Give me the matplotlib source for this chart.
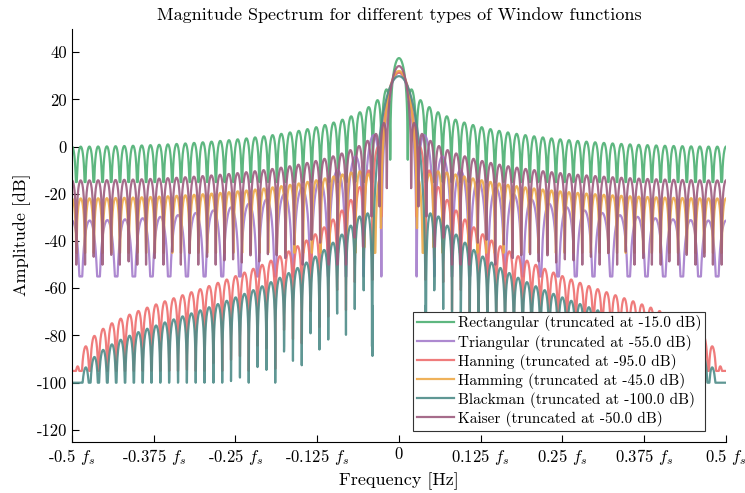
import numpy as np
import matplotlib
matplotlib.use("Agg")
import matplotlib.pyplot as plt

plt.rcParams['font.family'] = 'serif'
plt.rcParams['font.serif'] = ['cmr10', 'DejaVu Serif']
plt.rcParams['mathtext.fontset'] = 'cm'
plt.rcParams['axes.unicode_minus'] = False
plt.rcParams['axes.formatter.use_mathtext'] = False

# window setup
N = 75
nfft = 4096
kaiser_beta = 3.0

names = ["Rectangular", "Triangular", "Hanning", "Hamming", "Blackman", "Kaiser"]
floors_db = [-15.0, -55.0, -95.0, -45.0, -100.0, -50.0]
colors = ["#4caf72", "#a47ccb", "#ee6e6e", "#eeaa48", "#4e8c88", "#9c5c7e"]

windows = [
    np.ones(N),
    np.bartlett(N),
    np.hanning(N),
    np.hamming(N),
    np.blackman(N),
    np.kaiser(N, kaiser_beta),
]

x_ticks = [-0.5, -0.375, -0.25, -0.125, 0, 0.125, 0.25, 0.375, 0.5]
x_labels = ["-0.5 $f_s$", "-0.375 $f_s$", "-0.25 $f_s$", "-0.125 $f_s$", "0",
            "0.125 $f_s$", "0.25 $f_s$", "0.375 $f_s$", "0.5 $f_s$"]
y_ticks = [-120, -100, -80, -60, -40, -20, 0, 20, 40]

freq = np.fft.fftshift(np.fft.fftfreq(nfft))

fig = plt.figure(figsize=(7.45, 4.93), dpi=100)
ax = fig.add_axes([0.0966, 0.104, 0.8779, 0.838])

for name, w, floor, c in zip(names, windows, floors_db, colors):
    spec = np.abs(np.fft.fftshift(np.fft.fft(w, nfft)))
    db = 20 * np.log10(np.maximum(spec, 1e-12))
    db = np.maximum(db, floor)
    ax.plot(freq, db, color=c, linewidth=1.6, alpha=0.9,
            label="%s (truncated at %.1f dB)" % (name, floor))

ax.set_xlim(-0.5, 0.5)
ax.set_ylim(-125, 50)
ax.set_xticks(x_ticks)
ax.set_xticklabels(x_labels)
ax.set_yticks(y_ticks)
ax.tick_params(axis='both', direction='in', labelsize=12, length=5)
ax.spines['top'].set_visible(False)
ax.spines['right'].set_visible(False)
ax.set_title("Magnitude Spectrum for different types of Window functions", fontsize=13)
ax.set_xlabel("Frequency [Hz]", fontsize=13)
ax.set_ylabel("Amplitude [dB]", fontsize=13)

leg = ax.legend(loc='lower right', bbox_to_anchor=(0.968, 0.027), fontsize=11,
                fancybox=False, framealpha=1, edgecolor='#333333',
                borderpad=0.25, labelspacing=0.2, handlelength=2.4,
                handletextpad=0.25, borderaxespad=0.0)
leg.get_frame().set_linewidth(0.8)

fig.savefig("out.png", dpi=100)
